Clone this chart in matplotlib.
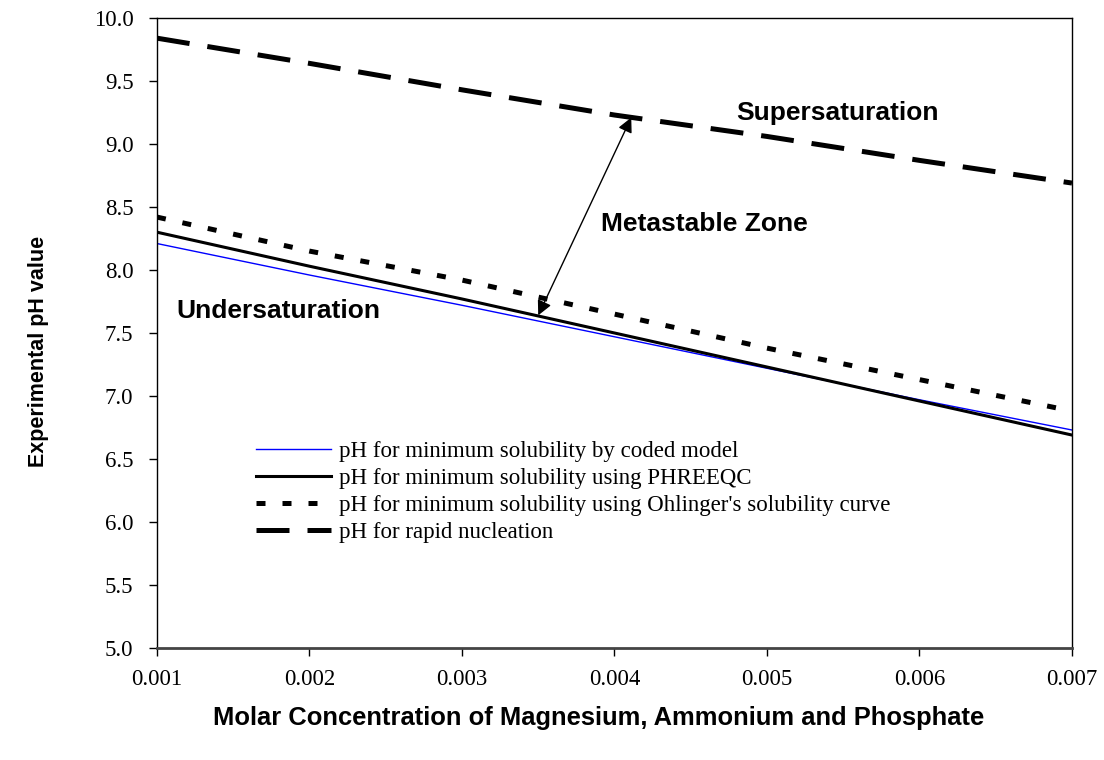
import matplotlib
matplotlib.use("Agg")
import matplotlib.pyplot as plt

# data
conc = [0.001, 0.002, 0.003, 0.004, 0.005, 0.006, 0.007]
ph_coded = [8.21, 7.96, 7.72, 7.47, 7.22, 6.97, 6.73]
ph_phreeqc = [8.30, 8.03, 7.77, 7.50, 7.23, 6.96, 6.69]
ph_ohlinger = [8.42, 8.15, 7.92, 7.65, 7.38, 7.13, 6.88]
ph_nucleation = [9.84, 9.64, 9.43, 9.23, 9.06, 8.87, 8.69]

labels = [
    "pH for minimum solubility by coded model",
    "pH for minimum solubility using PHREEQC",
    "pH for minimum solubility using Ohlinger's solubility curve",
    "pH for rapid nucleation",
]
yticks = [5.0, 5.5, 6.0, 6.5, 7.0, 7.5, 8.0, 8.5, 9.0, 9.5, 10.0]

serif = ["Liberation Serif", "DejaVu Serif"]
sans = ["Liberation Sans", "DejaVu Sans"]

fig = plt.figure(figsize=(11.04, 7.60), dpi=100)
ax = fig.add_axes([0.1422, 0.1474, 0.8288, 0.8289])

ax.plot(conc, ph_coded, color="#0000ff", lw=1.0, label=labels[0])
ax.plot(conc, ph_phreeqc, color="black", lw=2.2, label=labels[1])
ax.plot(conc, ph_ohlinger, color="black", lw=3.6, dashes=(1.8, 3.4), label=labels[2])
ax.plot(conc, ph_nucleation, color="black", lw=3.6, dashes=(6.6, 3.6), label=labels[3])

# arrow across the metastable zone
ax.annotate("", xy=(0.00411, 9.21), xytext=(0.0035, 7.64),
            arrowprops=dict(arrowstyle="<|-|>", color="black", lw=1.0,
                            mutation_scale=22, shrinkA=0, shrinkB=0))

ax.text(0.00480, 9.25, "Supersaturation", fontsize=19, fontweight="bold",
        family=sans, ha="left", va="center")
ax.text(0.00459, 8.365, "Metastable Zone", fontsize=19, fontweight="bold",
        family=sans, ha="center", va="center")
ax.text(0.00113, 7.675, "Undersaturation", fontsize=19, fontweight="bold",
        family=sans, ha="left", va="center")

ax.set_xlim(0.001, 0.007)
ax.set_ylim(5.0, 10.0)
ax.set_xticks(conc)
ax.set_xticklabels([f"{c:.3f}" for c in conc], family=serif, fontsize=16.5)
ax.set_yticks(yticks)
ax.set_yticklabels([f"{v:.1f}" for v in yticks], family=serif, fontsize=16.5)
ax.tick_params(direction="out", length=6, width=1)
ax.tick_params(axis="x", pad=9)
ax.tick_params(axis="y", pad=11)
for s in ax.spines.values():
    s.set_linewidth(1.0)
ax.spines["bottom"].set_linewidth(2.0)
ax.spines["bottom"].set_color("#444444")

ax.set_xlabel("Molar Concentration of Magnesium, Ammonium and Phosphate",
              fontsize=18.4, fontweight="bold", family=sans, va="center")
ax.xaxis.set_label_coords(0.483, -0.111)
ax.set_ylabel("Experimental pH value", fontsize=15.5, fontweight="bold",
              family=sans, va="center")
ax.yaxis.set_label_coords(-0.129, 0.47)

ax.legend(loc="upper left", bbox_to_anchor=(0.108, 0.328), frameon=False,
          prop={"family": serif, "size": 16.5}, handlelength=3.3,
          handletextpad=0.35, labelspacing=0.26, borderpad=0,
          borderaxespad=0)

fig.savefig("out.png", dpi=100)
